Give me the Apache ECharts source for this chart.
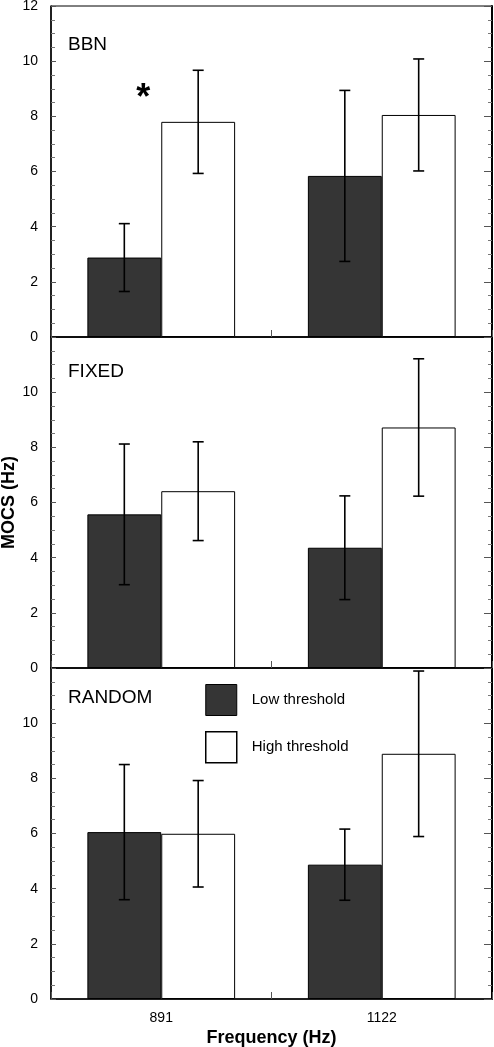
<!DOCTYPE html>
<html>
<head>
<meta charset="utf-8">
<script src="https://cdn.jsdelivr.net/npm/echarts@6/dist/echarts.min.js"></script>
<style>
html,body{margin:0;padding:0;background:#fff;}
#main{width:494px;height:1047px;}
</style>
</head>
<body>
<div id="main"></div>
<script>
// ---- data ----
const categories = ['891', '1122'];
const panelNames = ['BBN', 'FIXED', 'RANDOM'];
const seriesNames = ['Low threshold', 'High threshold'];

const bbnLow = [2.88, 5.84];
const bbnLowErr = [1.23, 3.10];
const bbnHigh = [7.80, 8.05];
const bbnHighErr = [1.87, 2.03];

const fixedLow = [5.57, 4.36];
const fixedLowErr = [2.55, 1.88];
const fixedHigh = [6.41, 8.72];
const fixedHighErr = [1.79, 2.49];

const randomLow = [6.05, 4.87];
const randomLowErr = [2.45, 1.29];
const randomHigh = [5.99, 8.89];
const randomHighErr = [1.93, 3.00];

const yMin = 0, yMax = 12, yInterval = 2;
const asteriskValue = 8.8; // BBN 891 significance marker

// ---- layout ----
const FONT = "'Liberation Sans', Arial, Helvetica, sans-serif";
const gridTops = [6, 337, 668];
const gridH = 331;
const gridLeft = 51, gridRight = 2;
const catGap = 0.33;

const lows = [bbnLow, fixedLow, randomLow];
const lowErrs = [bbnLowErr, fixedLowErr, randomLowErr];
const highs = [bbnHigh, fixedHigh, randomHigh];
const highErrs = [bbnHighErr, fixedHighErr, randomHighErr];

const grids = [], xAxes = [], yAxes = [], series = [], titles = [];

function errRender(side) {
  return function (params, api) {
    const x = api.value(0), m = api.value(1), e = api.value(2);
    const band = api.size([1, 0])[0];
    const bw = band * (1 - catGap) / 2;
    const c = api.coord([x, m]);
    const cx = c[0] + side * bw / 2;
    const top = api.coord([x, m + e])[1];
    const bot = api.coord([x, m - e])[1];
    const cap = 5.5;
    const st = { stroke: '#000', lineWidth: 1.6 };
    return {
      type: 'group',
      children: [
        { type: 'line', shape: { x1: cx, y1: top, x2: cx, y2: bot }, style: st },
        { type: 'line', shape: { x1: cx - cap, y1: top, x2: cx + cap, y2: top }, style: st },
        { type: 'line', shape: { x1: cx - cap, y1: bot, x2: cx + cap, y2: bot }, style: st }
      ]
    };
  };
}

for (let g = 0; g < 3; g++) {
  grids.push({
    left: gridLeft, right: gridRight, top: gridTops[g], height: gridH,
    containLabel: false, outerBoundsMode: 'none',
    show: true, borderColor: '#000', borderWidth: 1, backgroundColor: 'transparent'
  });
  const isBottom = g === 2;
  xAxes.push({
    type: 'category', gridIndex: g, data: categories,
    axisLine: { show: true, lineStyle: { color: '#000', width: 1.5 } },
    axisTick: { show: true, inside: true, length: 7, lineStyle: { color: '#555', width: 1 } },
    axisLabel: { show: isBottom, color: '#000', fontSize: 14, fontFamily: FONT, margin: 12 },
    splitLine: { show: false },
    name: isBottom ? 'Frequency (Hz)' : '',
    nameLocation: 'middle', nameGap: 30, nameMoveOverlap: false,
    nameTextStyle: { color: '#000', fontSize: 18, fontWeight: 'bold', fontFamily: FONT }
  });
  yAxes.push({
    type: 'value', gridIndex: g, position: 'left', min: yMin, max: yMax, interval: yInterval,
    axisLine: { show: true, lineStyle: { color: '#000', width: 1.5 } },
    axisTick: { show: true, inside: true, length: 5, lineStyle: { color: '#555' } },
    minorTick: { show: true, splitNumber: 4, length: 4, lineStyle: { color: '#777' } },
    axisLabel: {
      color: '#000', fontSize: 14, fontFamily: FONT, margin: 13,
      formatter: (v) => (g > 0 && v === yMax) ? '' : String(v)
    },
    splitLine: { show: false },
    name: g === 1 ? 'MOCS (Hz)' : '',
    nameLocation: 'middle', nameGap: 33, nameRotate: 90, nameMoveOverlap: false,
    nameTextStyle: { color: '#000', fontSize: 18, fontWeight: 'bold', fontFamily: FONT }
  });
  yAxes.push({
    type: 'value', gridIndex: g, position: 'right', min: yMin, max: yMax, interval: yInterval,
    axisLine: { show: true, lineStyle: { color: '#000', width: 2 } },
    axisTick: { show: true, inside: true, length: 8, lineStyle: { color: '#555' } },
    minorTick: { show: true, splitNumber: 4, length: 4, lineStyle: { color: '#777' } },
    axisLabel: { show: false },
    splitLine: { show: false }
  });

  const low = {
    name: seriesNames[0], type: 'bar', xAxisIndex: g, yAxisIndex: 2 * g,
    data: lows[g], barGap: '0%', barCategoryGap: (catGap * 100) + '%',
    itemStyle: { color: '#353535', borderColor: '#000', borderWidth: 1 },
    emphasis: { disabled: true }, z: 2
  };
  const high = {
    name: seriesNames[1], type: 'bar', xAxisIndex: g, yAxisIndex: 2 * g,
    data: highs[g], barGap: '0%', barCategoryGap: (catGap * 100) + '%',
    itemStyle: { color: '#ffffff', borderColor: '#000', borderWidth: 1 },
    emphasis: { disabled: true }, z: 2
  };
  if (g === 0) {
    low.markPoint = {
      symbol: 'circle', symbolSize: 1, silent: true,
      itemStyle: { color: 'rgba(0,0,0,0)' },
      label: {
        show: true, formatter: '*', color: '#000', fontSize: 36, fontWeight: 'bold',
        fontFamily: FONT, offset: [19, 5]
      },
      data: [{ coord: [0, asteriskValue] }]
    };
  }
  series.push(low, high);
  series.push({
    type: 'custom', xAxisIndex: g, yAxisIndex: 2 * g, z: 5, silent: true,
    data: lows[g].map((m, i) => [i, m, lowErrs[g][i]]),
    encode: { x: 0, y: 1 }, renderItem: errRender(-1)
  });
  series.push({
    type: 'custom', xAxisIndex: g, yAxisIndex: 2 * g, z: 5, silent: true,
    data: highs[g].map((m, i) => [i, m, highErrs[g][i]]),
    encode: { x: 0, y: 1 }, renderItem: errRender(1)
  });

  titles.push({
    text: panelNames[g], left: 68, top: gridTops[g] + [29, 25, 20][g], padding: 0,
    textStyle: { color: '#000', fontSize: 19, fontWeight: 'normal', fontFamily: FONT }
  });
}

const chart = echarts.init(document.getElementById('main'), null, { renderer: 'canvas' });
chart.setOption({
  animation: false,
  backgroundColor: '#fff',
  title: titles,
  legend: {
    data: [
      { name: seriesNames[0], itemStyle: { color: '#353535', borderColor: '#000', borderWidth: 1 } },
      { name: seriesNames[1], itemStyle: { color: '#ffffff', borderColor: '#000', borderWidth: 1.5 } }
    ],
    orient: 'vertical', left: 205, top: 684, padding: 0,
    itemWidth: 31, itemHeight: 31, itemGap: 15, icon: 'rect', selectedMode: false,
    textStyle: { color: '#000', fontSize: 15, fontFamily: FONT, padding: [0, 0, 0, 10] }
  },
  grid: grids,
  xAxis: xAxes,
  yAxis: yAxes,
  series: series
});
</script>
</body>
</html>
